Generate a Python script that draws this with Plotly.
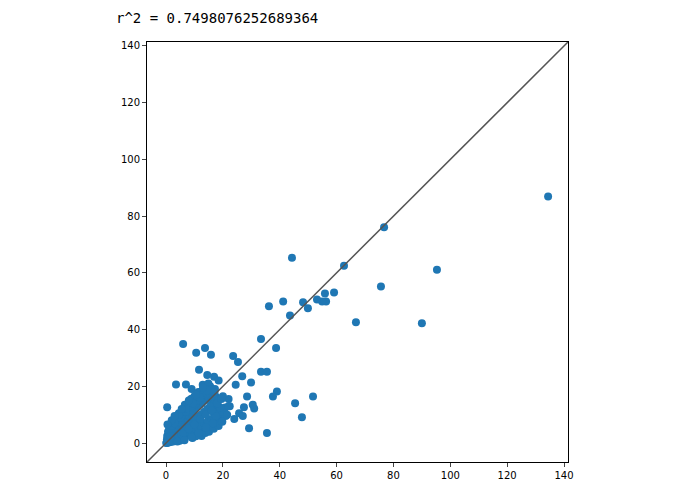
import plotly.graph_objects as go

# outlying points
outlier_x = [134.4, 76.7, 75.6, 95.3, 90.0, 66.8, 59.1, 55.9, 56.3, 54.9, 53.1, 49.9, 48.2, 41.2,
             36.2, 44.3, 43.6, 62.6, 33.4, 38.7, 51.7, 47.8, 45.4, 39.0, 37.6, 35.5, 33.4, 35.5,
             29.9, 28.5, 31.0, 29.2, 25.7, 27.4, 23.6, 25.3, 6.0, 13.7, 10.6, 15.8, 3.5, 7.0,
             11.6, 16.9, 0.4, 24.5, 26.8, 22.0, 27.0, 20.5, 18.5, 12.5, 9.0, 14.5, 30.5, 24.0]
outlier_y = [86.9, 76.1, 55.2, 61.1, 42.2, 42.6, 53.1, 52.7, 49.9, 49.9, 50.6, 47.5, 49.6, 49.9,
             48.2, 65.3, 45.0, 62.5, 36.7, 33.5, 16.4, 9.1, 14.0, 18.2, 16.4, 3.5, 25.1, 25.1,
             21.3, 16.4, 12.2, 5.2, 10.5, 12.6, 30.7, 28.6, 34.9, 33.5, 31.8, 31.1, 20.6, 20.6,
             25.8, 23.4, 12.6, 20.5, 23.5, 15.5, 9.5, 12.0, 22.0, 2.5, 19.0, 24.0, 13.5, 8.5]

# dense cluster near the origin
cluster_x = [0.2, 0.5, 0.8, 1.0, 1.3, 1.6, 2.0, 2.4, 2.8, 3.1, 3.5, 4.0, 4.4, 4.9, 5.3, 5.8,
             6.2, 6.7, 7.1, 7.6, 8.0, 8.5, 9.0, 9.4, 9.9, 10.3, 10.8, 11.3, 11.7, 12.2, 12.8,
             13.3, 13.9, 14.4, 15.0, 15.6, 16.2, 16.9, 17.5, 18.2, 0.3, 0.9, 1.5, 2.2, 2.9,
             3.6, 4.3, 5.0, 5.7, 6.4, 7.2, 7.9, 8.7, 9.5, 10.2, 11.0, 11.9, 12.7, 13.6, 14.6,
             0.1, 0.6, 1.2, 1.8, 2.5, 3.2, 3.9, 4.6, 5.4, 6.1, 6.9, 7.7, 8.4, 9.2, 10.0, 10.9,
             11.8, 12.6, 13.5, 14.3, 15.3, 16.4, 17.3, 18.8, 19.5, 20.2, 21.0, 22.4, 0.4, 1.1,
             1.9, 2.7, 3.4, 4.2, 5.1, 5.9, 6.8, 7.4, 8.2, 9.1, 9.8, 10.6, 11.5, 12.4, 13.1,
             14.0, 14.8, 15.8, 16.6, 17.8, 1.4, 2.6, 3.8, 5.2, 6.5, 7.8, 8.9, 10.1, 11.2,
             12.3, 13.4, 14.7, 16.0, 17.0, 18.0, 19.2, 20.8, 5.5, 7.0, 8.3, 9.6, 11.0, 12.0,
             13.2, 14.2, 15.5, 4.8, 6.0, 9.3, 10.5, 13.8, 15.1, 16.8, 18.5, 19.8, 21.5, 0.7,
             2.1, 3.3, 4.5, 6.6, 8.8, 11.4, 12.9, 14.9, 17.2,
             1.0, 2.0, 3.0, 4.0, 5.0, 6.0, 7.0, 8.0, 9.0, 10.0, 11.0, 12.0, 13.0, 14.0, 15.0,
             16.0, 17.0, 18.0, 2.5, 3.5, 4.5, 5.5, 6.5, 7.5, 8.5, 9.5, 10.5, 11.5, 12.5, 13.5,
             14.5, 15.5, 16.5, 17.5, 3.0, 5.0, 7.0, 9.0, 11.0, 13.0, 15.0, 17.0, 19.0, 6.0,
             8.0, 10.0, 12.0, 14.0, 16.0, 18.0, 20.0, 1.5, 4.0, 6.5, 9.0, 11.5, 14.0, 16.5,
             2.0, 4.5, 7.0, 9.5, 12.0, 14.5, 17.0, 19.5, 22.0, 0.5, 3.0, 5.5, 8.0, 10.5, 13.0]
cluster_y = [0.1, 0.3, 0.5, 0.8, 1.0, 1.3, 1.5, 1.9, 2.2, 2.5, 2.7, 3.2, 3.5, 3.9, 4.2, 4.6,
             4.9, 5.3, 5.7, 6.1, 6.4, 6.8, 7.2, 7.5, 7.9, 8.2, 8.6, 9.0, 9.4, 9.8, 10.1,
             10.6, 11.0, 11.5, 12.0, 12.5, 13.0, 13.5, 14.0, 14.5, 1.2, 2.0, 2.8, 3.6, 4.4,
             5.1, 5.9, 6.7, 7.5, 8.3, 9.0, 9.8, 10.5, 11.3, 12.0, 12.8, 13.6, 14.3, 15.1, 16.0,
             0.0, 0.1, 0.3, 0.4, 0.7, 1.0, 1.2, 1.5, 1.9, 2.2, 2.6, 3.0, 3.3, 3.8, 4.1, 4.6,
             5.0, 5.4, 5.9, 6.3, 6.9, 7.5, 8.0, 8.7, 10.5, 11.8, 9.5, 13.0, 2.5, 3.5, 4.5,
             5.5, 6.4, 7.3, 8.1, 9.1, 10.0, 10.9, 11.7, 12.5, 13.4, 14.2, 15.0, 15.9, 16.7,
             17.4, 18.1, 18.6, 17.0, 16.0, 0.6, 1.0, 1.6, 2.3, 3.0, 3.6, 4.3, 4.9, 5.6,
             6.2, 7.0, 7.7, 8.5, 9.2, 10.0, 11.0, 12.5, 9.5, 11.5, 13.0, 14.5, 16.0, 17.5,
             18.5, 19.5, 20.0, 0.8, 1.2, 1.8, 2.4, 3.5, 4.0, 5.0, 6.0, 7.5, 10.0, 4.0,
             6.0, 8.0, 10.5, 13.5, 15.5, 18.0, 20.5, 21.0, 19.0,
             4.5, 6.0, 7.5, 9.0, 10.5, 12.0, 13.0, 14.5, 15.5, 16.5, 17.0, 18.0, 18.5, 17.5,
             16.0, 15.0, 14.0, 12.0, 0.5, 1.0, 2.0, 3.0, 4.0, 5.0, 6.0, 7.0, 8.0, 9.0, 10.0,
             11.0, 12.0, 13.0, 11.0, 9.5, 7.0, 9.0, 11.0, 13.0, 15.0, 17.0, 19.0, 17.5, 12.5,
             3.5, 5.0, 6.5, 8.5, 10.0, 11.5, 14.0, 16.5, 2.5, 0.5, 1.0, 2.0, 3.5, 5.5, 7.0,
             8.0, 10.0, 12.0, 14.0, 16.0, 18.5, 18.0, 15.5, 13.0, 6.5, 9.5, 12.0, 15.0, 17.0, 19.5]

diag = [-6.7, 141.4]

fig = go.Figure()
fig.add_trace(go.Scatter(x=outlier_x + cluster_x, y=outlier_y + cluster_y, mode="markers",
                         marker=dict(color="#1f77b4", size=8), showlegend=False))
fig.add_trace(go.Scatter(x=diag, y=diag, mode="lines",
                         line=dict(color="#555555", width=1.5), showlegend=False))

axis_style = dict(showgrid=False, zeroline=False, showline=True, linecolor="black",
                  linewidth=1, mirror=True, ticks="outside", ticklen=4,
                  tickfont=dict(family="DejaVu Sans", size=10, color="black"),
                  tickvals=[0, 20, 40, 60, 80, 100, 120, 140], range=diag)
fig.update_xaxes(**axis_style)
fig.update_yaxes(**axis_style)
fig.update_layout(
    width=695, height=494,
    margin=dict(l=139, r=135, t=34, b=40),
    plot_bgcolor="white", paper_bgcolor="white",
    title=dict(text="r^2 = 0.7498076252689364", x=108 / 695, xanchor="left",
               y=0.99, yanchor="top", xref="container",
               font=dict(family="DejaVu Sans Mono", size=14, color="black")),
)
fig.write_html("out.html")
